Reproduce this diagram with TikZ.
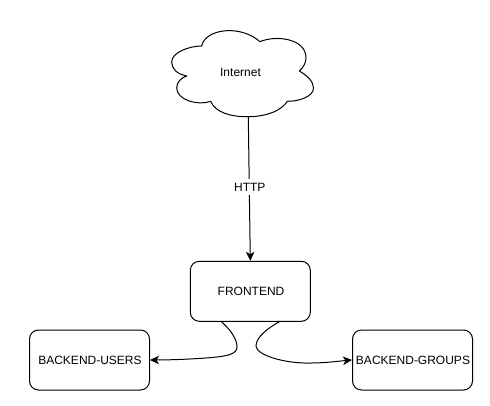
\documentclass[tikz,border=0pt]{standalone}
\usepackage{fontspec}
\setmainfont{Liberation Sans}
\usetikzlibrary{arrows.meta,positioning}
\tikzset{
  box/.style={draw=black,line width=1pt,rounded corners=9pt,minimum width=120pt,minimum height=60pt,inner sep=0pt,font=\fontsize{12pt}{14pt}\selectfont,text=black,fill=white},
  lbl/.style={font=\fontsize{12pt}{14pt}\selectfont,text=black,inner xsep=1pt,inner ysep=4pt},
  conn/.style={draw=black,line width=1pt,-{Stealth[length=9pt,width=8.5pt,inset=2.5pt]}},
  cloudline/.style={draw=black,line width=1pt,fill=white,line join=round}
}
\begin{document}
\begin{tikzpicture}[x=1pt,y=-1pt]
\useasboundingbox (0,0) rectangle (490,406);
\fill[white] (0,0) rectangle (490,406);
% cloud outline
\draw[cloudline] (201.7,46)
  .. controls (205,29) and (240,24) .. (260,41.7)
  .. controls (275,35) and (306,38) .. (306,58)
  .. controls (306,63) and (303,68) .. (299.3,71)
  .. controls (308,76) and (313.5,82) .. (313.5,88)
  .. controls (313.5,97) and (298,101.5) .. (287.3,101.3)
  .. controls (277,117) and (250,116.7) .. (248.3,116.7)
  .. controls (230,117) and (215,112) .. (210.7,101.3)
  .. controls (198,106) and (176.7,100) .. (176.7,88)
  .. controls (176.7,82) and (181,78) .. (186.7,76)
  .. controls (177,74) and (171.7,69) .. (171.7,62)
  .. controls (171.7,52) and (190,46) .. (201.7,46) -- cycle;
\coordinate (cloudbottom) at (248.3,116.7);
\node[lbl] (internet) at (240.5,72) {Internet};
\node[box,text depth=0pt] (frontend) at (250.3,291.3) {\hspace{1.5pt}FRONTEND};
\node[box,text depth=0pt] (users) at (89.5,360) {\hspace{1pt}BACKEND-USERS};
\node[box,text depth=0pt] (groups) at (412.5,360) {\hspace{1pt}BACKEND-GROUPS};
\draw[conn] (cloudbottom) -- node[lbl,fill=white,pos=0.49] (http) {\hspace{1pt}HTTP} (frontend.north);
\coordinate (fl) at (221,321.3);
\coordinate (fr) at (280,321.3);
\draw[conn] (fl) .. controls (232,331) and (237,340) .. (237,347)
  .. controls (237,354) and (228,356) .. (212,357.5)
  .. controls (195,359) and (170,360) .. (users.east);
\draw[conn] (fr) .. controls (268,328) and (256,337) .. (256,346)
  .. controls (256,355) and (285,364) .. (312,363)
  .. controls (325,363) and (340,361) .. (groups.west);
\end{tikzpicture}
\end{document}
